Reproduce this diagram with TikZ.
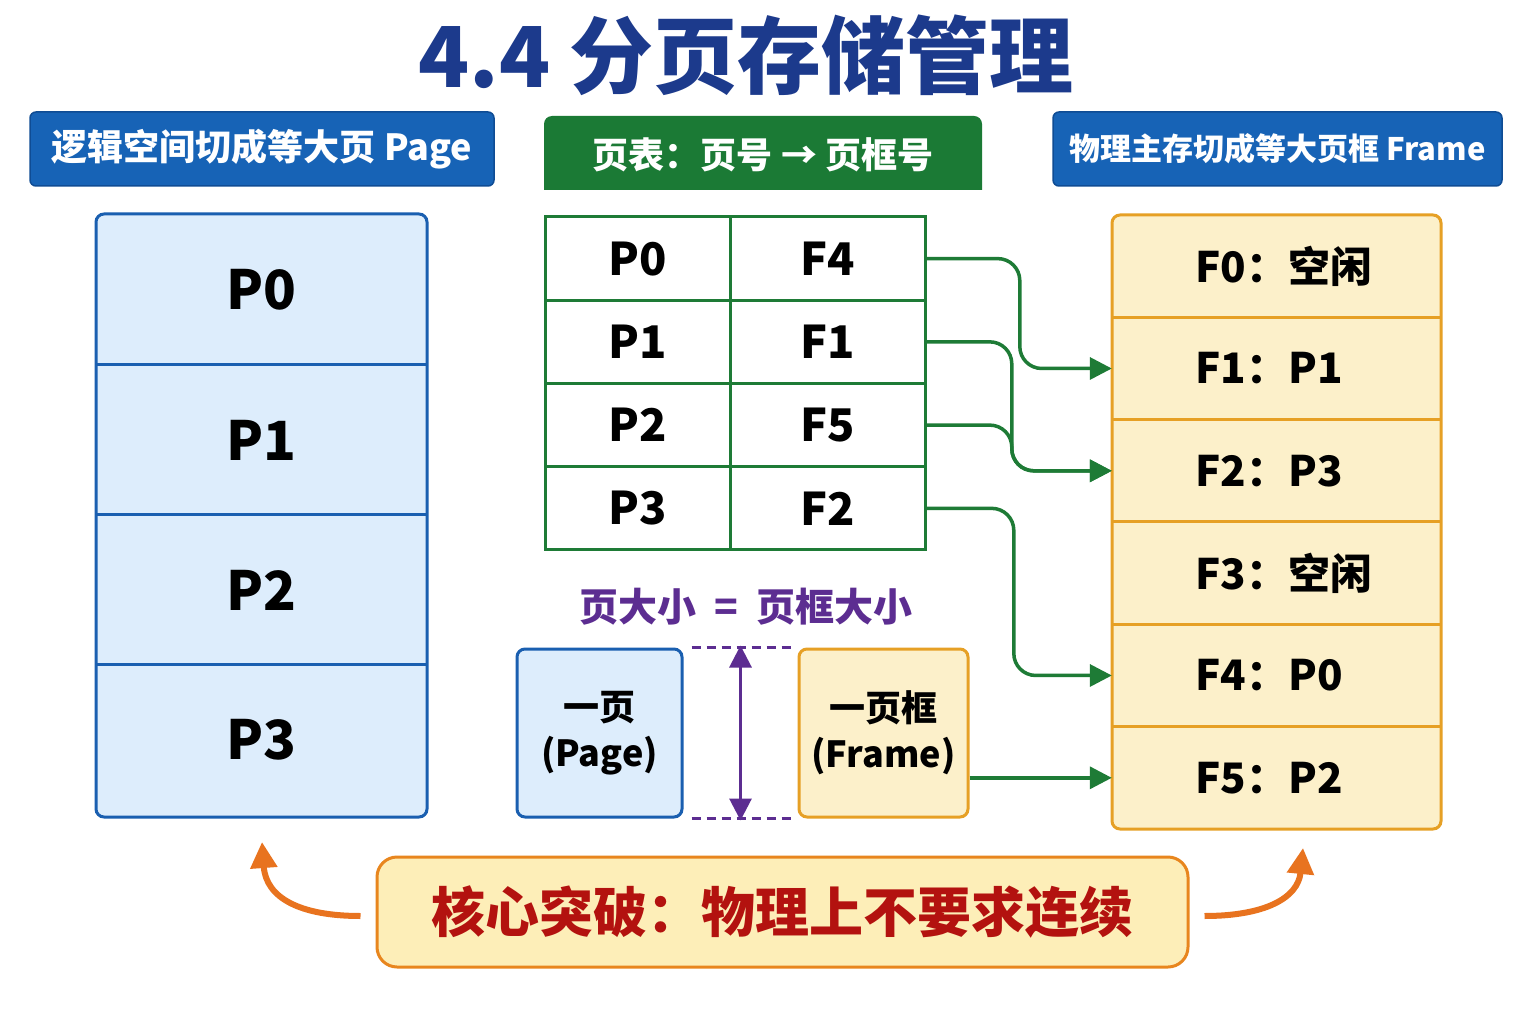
\documentclass[tikz,border=0pt]{standalone}
\usepackage{fontspec}
\setmainfont{Noto Sans CJK SC}
\usetikzlibrary{arrows.meta,calc,positioning}

\definecolor{titleblue}{HTML}{1C3A8C}
\definecolor{hdrblue}{HTML}{1763B6}
\definecolor{hdrblueedge}{HTML}{0F4C94}
\definecolor{hdrgreen}{HTML}{1B7A35}
\definecolor{tblgreen}{HTML}{1E7B36}
\definecolor{pagefill}{HTML}{DDEDFC}
\definecolor{pageedge}{HTML}{1A5FB0}
\definecolor{framefill}{HTML}{FCF0CA}
\definecolor{frameedge}{HTML}{E6A025}
\definecolor{sizepurple}{HTML}{5C2D91}
\definecolor{corered}{HTML}{B3120F}
\definecolor{corefill}{HTML}{FDEEB8}
\definecolor{coreedge}{HTML}{E8861E}
\definecolor{bendorange}{HTML}{E8731F}

\tikzset{
  hdrtext/.style={text=white, font=\fontsize{36}{40}\selectfont\bfseries, inner sep=0pt},
  bigp/.style={font=\fontsize{54}{60}\selectfont\bfseries, inner sep=0pt},
  tcell/.style={draw=tblgreen, line width=3pt, minimum height=83.25pt, inner sep=0pt,
    font=\fontsize{45}{50}\selectfont\bfseries},
  frow/.style={minimum width=329pt, minimum height=102.33pt, inner sep=0pt},
  ftext/.style={anchor=west, font=\fontsize{42}{48}\selectfont\bfseries, inner sep=0pt},
  link/.style={draw=tblgreen, line width=3.5pt, rounded corners=22pt,
    -{Triangle[length=22pt,width=22pt]}},
  unitbox/.style={line width=3pt, rounded corners=8pt, minimum width=165pt, minimum height=168pt,
    align=center, font=\fontsize{36}{46}\selectfont\bfseries},
  sizeline/.style={draw=sizepurple, line width=2.5pt, dash pattern=on 9pt off 6pt},
  bendarrow/.style={draw=bendorange, line width=6pt, -{Triangle[length=26pt,width=26pt]}}
}

\begin{document}
\begin{tikzpicture}[x=1pt,y=-1pt]
\useasboundingbox (0,0) rectangle (1536,1024);
\fill[white] (0,0) rectangle (1536,1024);

% Text Node
\node[text=titleblue, font=\fontsize{84}{90}\selectfont\bfseries, inner sep=0pt] (title) at (746,55) {4.4 分页存储管理};

%Shape: Rectangle
\node[hdrtext, fill=hdrblue, draw=hdrblueedge, line width=1.5pt, rounded corners=6pt,
  minimum width=464pt, minimum height=74pt] (hl) at (262,149) {逻辑空间切成等大页 Page};
%Shape: Rectangle
\fill[hdrgreen] (544,190) [rounded corners=8pt] -- (544,116) -- (982,116) [sharp corners] -- (982,190) -- cycle;
\node[hdrtext] (hm) at (763,155) {页表：页号 → 页框号};
%Shape: Rectangle
\node[hdrtext, font=\fontsize{31}{38}\selectfont\bfseries, fill=hdrblue, draw=hdrblueedge, line width=1.5pt,
  rounded corners=6pt, minimum width=449pt, minimum height=74pt] (hr) at (1277.5,149) {物理主存切成等大页框 Frame};

%Shape: Rectangle
\draw[pageedge, fill=pagefill, line width=3pt, rounded corners=8pt] (96,214) rectangle (427,817);
\foreach \y in {364,514,664} {
  \draw[pageedge, line width=3pt] (96,\y) -- (427,\y);
}
% Text Node
\foreach \i in {0,...,3} {
  \node[bigp] (p\i) at (261.5,{290+150*\i}) {P\i};
}

% page table
\foreach \p/\f [count=\i from 0] in {P0/F4,P1/F1,P2/F5,P3/F2} {
  \node[tcell, minimum width=185pt] (tp\i) at (637.5,{258.6+83.25*\i}) {\p};
  \node[tcell, minimum width=195pt] (tf\i) at (827.5,{258.6+83.25*\i}) {\f};
}

%Shape: Rectangle
\draw[frameedge, fill=framefill, line width=3pt, rounded corners=8pt] (1112,215) rectangle (1441,829);
\foreach \lab [count=\i from 0] in {空闲,P1,P3,空闲,P0,P2} {
  \node[frow] (f\i) at (1276.5,{215+102.33*(\i+0.5)}) {};
  \node[ftext] (fl\i) at (1195,{215+102.33*(\i+0.5)}) {F\i：\lab};
}
\foreach \i in {1,...,5} {
  \draw[frameedge, line width=3pt] (f\i.north west) -- (f\i.north east);
}

%Straight Lines
\draw[link] (tf0.east) -| ([xshift=-92pt]f1.west) -- (f1.west);
\draw[link] (tf1.east) -| ([xshift=-100pt]f2.west) -- (f2.west);
\draw[link] (tf2.east) -| ([xshift=-100pt]f2.west) -- (f2.west);
\draw[link] (tf3.east) -| ([xshift=-98pt]f4.west) -- (f4.west);

% Text Node
\node[text=sizepurple, font=\fontsize{39}{42}\selectfont\bfseries, inner sep=0pt] (eq) at (746,607) {页大小\ \ =\ \ 页框大小};

%Shape: Rectangle
\node[unitbox, draw=pageedge, fill=pagefill] (pg) at (599.5,733) {一页\\(Page)};
\node[unitbox, draw=frameedge, fill=framefill, minimum width=169pt] (fr) at (883.5,733) {一页框\\(Frame)};

%Straight Lines
\draw[sizeline] ([xshift=8pt]pg.north east) -- ([xshift=-2pt]fr.north west);
\draw[sizeline] ([xshift=8pt]pg.south east) -- ([xshift=-2pt]fr.south west);
\draw[draw=sizepurple, line width=3pt, {Triangle[length=22pt,width=22pt]}-{Triangle[length=22pt,width=22pt]}]
  ($(pg.north east)!0.5!(fr.north west)+(0,-2)$) -- ($(pg.south east)!0.5!(fr.south west)+(0,2)$);

\draw[link, rounded corners=0pt] (fr.east |- f5.west) -- (f5.west);

%Shape: Rectangle
\node[draw=coreedge, fill=corefill, line width=3pt, rounded corners=20pt, minimum width=811pt,
  minimum height=110pt, text=corered, font=\fontsize{54}{58}\selectfont\bfseries] (core) at (782.5,912) {核心突破：物理上不要求连续};

%Curve Lines
\coordinate (lt) at (262,842);
\coordinate (rt) at (1303,848);
\draw[bendarrow] ([xshift=-15pt,yshift=-4pt]core.west) .. controls (300,916) and (266,898) .. (lt);
\draw[bendarrow] ([xshift=15pt,yshift=-4pt]core.east) .. controls (1265,916) and (1298,898) .. (rt);

\end{tikzpicture}
\end{document}
